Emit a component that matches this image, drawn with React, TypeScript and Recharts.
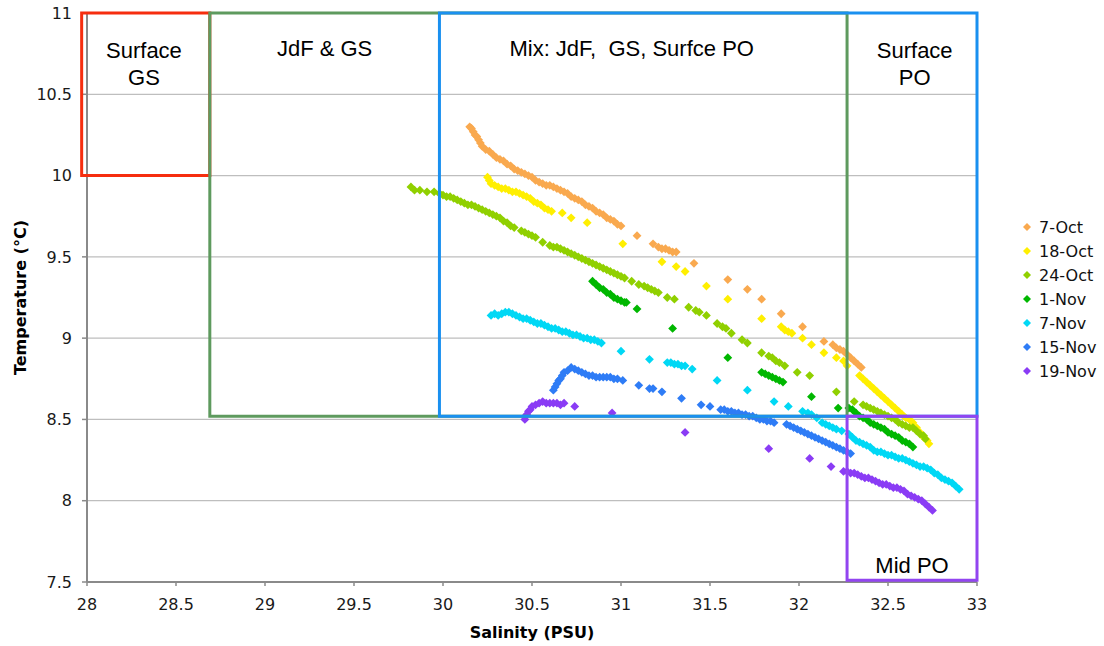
import React from 'react';
import { ScatterChart, Scatter, XAxis, YAxis, CartesianGrid, ReferenceArea, Label } from 'recharts';

// axis ticks
const X_TICKS = [28, 28.5, 29, 29.5, 30, 30.5, 31, 31.5, 32, 32.5, 33];
const Y_TICKS = [7.5, 8, 8.5, 9, 9.5, 10, 10.5, 11];

// [salinity, temperature]
const OCT_7 = [
  [30.15, 10.3], [30.16, 10.29], [30.17, 10.27], [30.18, 10.25], [30.19, 10.24], [30.2, 10.22], [30.21, 10.2],
  [30.22, 10.18], [30.24, 10.16], [30.26, 10.15], [30.28, 10.13], [30.3, 10.11], [30.32, 10.1], [30.34, 10.09],
  [30.36, 10.07], [30.38, 10.06], [30.4, 10.04], [30.42, 10.03], [30.44, 10.02], [30.46, 10.01], [30.48, 10.0],
  [30.5, 9.99], [30.52, 9.97], [30.54, 9.96], [30.56, 9.95], [30.58, 9.94], [30.6, 9.94], [30.62, 9.93],
  [30.64, 9.92], [30.66, 9.91], [30.68, 9.9], [30.7, 9.89], [30.72, 9.87], [30.74, 9.86], [30.76, 9.85],
  [30.78, 9.84], [30.8, 9.82], [30.82, 9.81], [30.84, 9.8], [30.86, 9.78], [30.88, 9.77], [30.9, 9.76],
  [30.92, 9.74], [30.94, 9.73], [30.96, 9.72], [30.98, 9.7], [31.0, 9.69],
  [31.09, 9.63], [31.18, 9.58], [31.21, 9.56], [31.23, 9.55], [31.25, 9.55], [31.27, 9.54], [31.29, 9.53],
  [31.31, 9.53], [31.41, 9.46], [31.6, 9.36], [31.71, 9.3], [31.79, 9.24], [31.9, 9.15], [32.02, 9.07],
  [32.14, 8.98], [32.19, 8.96], [32.21, 8.94], [32.23, 8.93], [32.25, 8.92], [32.27, 8.9], [32.29, 8.88],
  [32.31, 8.86], [32.33, 8.84], [32.35, 8.82],
];

const OCT_18 = [
  [30.25, 9.99], [30.26, 9.97], [30.27, 9.95], [30.29, 9.94], [30.31, 9.93], [30.33, 9.92], [30.35, 9.92],
  [30.37, 9.91], [30.39, 9.9], [30.41, 9.9], [30.43, 9.89], [30.45, 9.88], [30.47, 9.87], [30.49, 9.86],
  [30.51, 9.84], [30.53, 9.83], [30.55, 9.82], [30.57, 9.8], [30.59, 9.79], [30.61, 9.78],
  [30.67, 9.77], [30.72, 9.74], [30.81, 9.71], [31.01, 9.58], [31.23, 9.47], [31.31, 9.44], [31.36, 9.41],
  [31.48, 9.32], [31.6, 9.24], [31.79, 9.12], [31.9, 9.07], [31.92, 9.05], [31.94, 9.04], [31.96, 9.03],
  [32.02, 9.0], [32.07, 8.96], [32.14, 8.91], [32.21, 8.88], [32.25, 8.86], [32.27, 8.83], [32.34, 8.77],
  [32.36, 8.75], [32.38, 8.73], [32.4, 8.71], [32.42, 8.69], [32.44, 8.67], [32.46, 8.65], [32.48, 8.63],
  [32.5, 8.61], [32.52, 8.59], [32.54, 8.57], [32.56, 8.55], [32.58, 8.53], [32.6, 8.51], [32.62, 8.5],
  [32.64, 8.48], [32.66, 8.45], [32.68, 8.42], [32.7, 8.39], [32.72, 8.37], [32.73, 8.35],
];

const OCT_24 = [
  [29.82, 9.93], [29.84, 9.91], [29.87, 9.91], [29.91, 9.9], [29.95, 9.9], [29.98, 9.89], [30.0, 9.88],
  [30.02, 9.87], [30.04, 9.87], [30.06, 9.86], [30.08, 9.85], [30.1, 9.84], [30.12, 9.83], [30.14, 9.82],
  [30.16, 9.82], [30.18, 9.81], [30.2, 9.8], [30.22, 9.79], [30.24, 9.78], [30.26, 9.77], [30.28, 9.76],
  [30.3, 9.75], [30.32, 9.74], [30.34, 9.72], [30.36, 9.71], [30.38, 9.69], [30.4, 9.68], [30.44, 9.66],
  [30.46, 9.65], [30.48, 9.64], [30.5, 9.63], [30.52, 9.62], [30.56, 9.59], [30.6, 9.57], [30.62, 9.56],
  [30.64, 9.56], [30.66, 9.55], [30.68, 9.54], [30.7, 9.53], [30.72, 9.52], [30.74, 9.51], [30.76, 9.5],
  [30.78, 9.49], [30.8, 9.48], [30.82, 9.47], [30.84, 9.46], [30.86, 9.45], [30.88, 9.44], [30.9, 9.43],
  [30.92, 9.42], [30.94, 9.41], [30.96, 9.4], [30.98, 9.39], [31.0, 9.38], [31.02, 9.37],
  [31.06, 9.35], [31.1, 9.33], [31.13, 9.32], [31.15, 9.31], [31.17, 9.3], [31.19, 9.29], [31.21, 9.28],
  [31.26, 9.25], [31.3, 9.24], [31.38, 9.19], [31.42, 9.17], [31.44, 9.16], [31.48, 9.14], [31.54, 9.09],
  [31.57, 9.07], [31.59, 9.06], [31.62, 9.03], [31.68, 8.99], [31.71, 8.97], [31.79, 8.91], [31.83, 8.89],
  [31.85, 8.88], [31.87, 8.86], [31.89, 8.85], [31.92, 8.83], [31.99, 8.79], [32.06, 8.77], [32.21, 8.67],
  [32.31, 8.61], [32.36, 8.59], [32.38, 8.58], [32.4, 8.57], [32.42, 8.56], [32.44, 8.55], [32.46, 8.54],
  [32.48, 8.53], [32.5, 8.52], [32.52, 8.51], [32.54, 8.5], [32.56, 8.48], [32.58, 8.47], [32.6, 8.46],
  [32.62, 8.45], [32.64, 8.45], [32.66, 8.43], [32.68, 8.41], [32.7, 8.4], [32.71, 8.38],
];

const NOV_1 = [
  [30.84, 9.35], [30.86, 9.33], [30.88, 9.31], [30.9, 9.3], [30.92, 9.28], [30.94, 9.27], [30.96, 9.25],
  [30.98, 9.24], [31.0, 9.23], [31.02, 9.22], [31.03, 9.22],
  [31.09, 9.18], [31.29, 9.06], [31.6, 8.88], [31.79, 8.79], [31.81, 8.78], [31.83, 8.77], [31.85, 8.76],
  [31.87, 8.75], [31.89, 8.74], [31.91, 8.73], [32.07, 8.64], [32.22, 8.57], [32.28, 8.57], [32.3, 8.56],
  [32.32, 8.54], [32.34, 8.52], [32.36, 8.51], [32.38, 8.5], [32.4, 8.48], [32.42, 8.47], [32.44, 8.46],
  [32.46, 8.45], [32.48, 8.44], [32.5, 8.42], [32.52, 8.41], [32.54, 8.4], [32.56, 8.39], [32.58, 8.37],
  [32.6, 8.36], [32.62, 8.35], [32.64, 8.33],
];

const NOV_7 = [
  [30.27, 9.14], [30.29, 9.15], [30.31, 9.14], [30.33, 9.15], [30.35, 9.16], [30.37, 9.16], [30.39, 9.15],
  [30.41, 9.14], [30.43, 9.13], [30.45, 9.12], [30.47, 9.12], [30.49, 9.11], [30.51, 9.1], [30.53, 9.09],
  [30.55, 9.09], [30.57, 9.08], [30.59, 9.07], [30.61, 9.06], [30.63, 9.06], [30.65, 9.05], [30.67, 9.04],
  [30.69, 9.04], [30.71, 9.03], [30.73, 9.02], [30.75, 9.02], [30.77, 9.01], [30.79, 9.0], [30.81, 9.0],
  [30.83, 8.99], [30.85, 8.99], [30.87, 8.98], [30.89, 8.97],
  [31.0, 8.92], [31.16, 8.87], [31.26, 8.85], [31.28, 8.85], [31.3, 8.84], [31.32, 8.84], [31.34, 8.83],
  [31.36, 8.83], [31.4, 8.81], [31.54, 8.74], [31.71, 8.68], [31.86, 8.61], [31.94, 8.58], [32.02, 8.55],
  [32.05, 8.54], [32.07, 8.53], [32.1, 8.51], [32.13, 8.48], [32.15, 8.47], [32.17, 8.46], [32.19, 8.45],
  [32.21, 8.44], [32.24, 8.43], [32.28, 8.41], [32.3, 8.39], [32.32, 8.37], [32.34, 8.36], [32.36, 8.35],
  [32.38, 8.34], [32.4, 8.33], [32.42, 8.31], [32.44, 8.3], [32.46, 8.3], [32.48, 8.29], [32.5, 8.28],
  [32.52, 8.28], [32.54, 8.27], [32.56, 8.26], [32.58, 8.26], [32.6, 8.25], [32.62, 8.24], [32.64, 8.23],
  [32.66, 8.22], [32.68, 8.21], [32.7, 8.21], [32.72, 8.2], [32.74, 8.19], [32.76, 8.17], [32.78, 8.16],
  [32.8, 8.14], [32.82, 8.13], [32.84, 8.12], [32.86, 8.11], [32.88, 8.09], [32.9, 8.07],
];

const NOV_15 = [
  [30.62, 8.68], [30.63, 8.7], [30.64, 8.72], [30.65, 8.74], [30.66, 8.75], [30.67, 8.77], [30.68, 8.79],
  [30.7, 8.8], [30.72, 8.82], [30.74, 8.81], [30.76, 8.8], [30.78, 8.79], [30.8, 8.78], [30.82, 8.77],
  [30.84, 8.77], [30.86, 8.76], [30.88, 8.76], [30.9, 8.76], [30.92, 8.76], [30.94, 8.76], [30.96, 8.75],
  [30.98, 8.75], [31.01, 8.74],
  [31.1, 8.71], [31.16, 8.69], [31.18, 8.69], [31.23, 8.67], [31.34, 8.63], [31.45, 8.59], [31.5, 8.58],
  [31.56, 8.56], [31.58, 8.56], [31.6, 8.55], [31.62, 8.55], [31.64, 8.54], [31.66, 8.54], [31.68, 8.53],
  [31.7, 8.53], [31.72, 8.52], [31.74, 8.52], [31.76, 8.51], [31.78, 8.5], [31.8, 8.5], [31.82, 8.49],
  [31.84, 8.49], [31.86, 8.48], [31.93, 8.47], [31.95, 8.46], [31.97, 8.45], [31.99, 8.44], [32.01, 8.43],
  [32.03, 8.42], [32.05, 8.41], [32.07, 8.4], [32.09, 8.39], [32.11, 8.38], [32.13, 8.37], [32.15, 8.36],
  [32.17, 8.35], [32.19, 8.34], [32.21, 8.33], [32.23, 8.32], [32.25, 8.31], [32.27, 8.3], [32.29, 8.29],
];

const NOV_19 = [
  [30.46, 8.5], [30.47, 8.53], [30.48, 8.55], [30.49, 8.56], [30.5, 8.58], [30.52, 8.59], [30.54, 8.6],
  [30.56, 8.61], [30.58, 8.6], [30.6, 8.6], [30.62, 8.6], [30.64, 8.6], [30.66, 8.59], [30.68, 8.6],
  [30.74, 8.58], [30.95, 8.54], [31.36, 8.42], [31.83, 8.32], [32.06, 8.26], [32.18, 8.21], [32.25, 8.18],
  [32.27, 8.18], [32.29, 8.17], [32.31, 8.17], [32.33, 8.16], [32.35, 8.15], [32.37, 8.14], [32.39, 8.14],
  [32.41, 8.13], [32.43, 8.12], [32.45, 8.11], [32.47, 8.1], [32.49, 8.1], [32.51, 8.09], [32.53, 8.08],
  [32.55, 8.08], [32.57, 8.07], [32.59, 8.06], [32.61, 8.04], [32.63, 8.03], [32.65, 8.02], [32.67, 8.01],
  [32.69, 8.0], [32.71, 7.98], [32.73, 7.96], [32.75, 7.94],
];

const SERIES_NAMES = ['7-Oct', '18-Oct', '24-Oct', '1-Nov', '7-Nov', '15-Nov', '19-Nov'];
const SERIES_POINTS = [OCT_7, OCT_18, OCT_24, NOV_1, NOV_7, NOV_15, NOV_19];
const SERIES_COLORS = ['#F9A94F', '#FFEF00', '#90D000', '#00B700', '#00D8F5', '#2E7CF6', '#8A3CF5'];

// water-mass boxes: [x1, x2, y1, y2]
const ZONE_BOXES = [
  [27.97, 28.69, 10.0, 11.0],
  [28.69, 32.27, 8.52, 11.0],
  [29.98, 33.0, 8.52, 11.0],
  [32.27, 33.0, 7.51, 8.52],
];
const ZONE_COLORS = ['#F62D0E', '#5E9A5E', '#1A90F0', '#9245F0'];

// text blocks placed over the plot: [x1, x2, y1, y2] and their lines
const TEXT_REGIONS = [
  [27.95, 28.69, 10.0, 11.0],
  [28.69, 29.98, 10.0, 11.0],
  [29.98, 32.14, 10.0, 11.0],
  [32.3, 33.0, 10.0, 11.0],
  [32.27, 33.0, 7.5, 8.52],
];
const TEXT_LINES = [
  ['Surface', 'GS'],
  ['JdF & GS'],
  ['Mix: JdF,\u00A0 GS, Surfce PO'],
  ['Surface', 'PO'],
  ['Mid PO'],
];

const VERDANA = '"DejaVu Sans", Verdana, sans-serif';
const ARIAL = '"Liberation Sans", Arial, sans-serif';

function diamondShape(color: string) {
  return (props: any) => {
    const { cx, cy } = props;
    if (cx == null || cy == null) return <g />;
    const r = 4.4;
    return (
      <polygon
        points={`${cx},${cy - r} ${cx + r},${cy} ${cx},${cy + r} ${cx - r},${cy}`}
        fill={color}
      />
    );
  };
}

export default function App() {
  const series = SERIES_NAMES.map((name, i) => ({
    name,
    color: SERIES_COLORS[i],
    data: SERIES_POINTS[i].map(([x, y]) => ({ x, y })),
  }));

  const textStyle = { fontFamily: ARIAL, fontSize: 22, fill: '#000' };

  return (
    <div style={{ position: 'absolute', left: 0, top: 0, width: 1104, height: 646, background: '#fff' }}>
      <ScatterChart width={1104} height={646} margin={{ top: 13, right: 127, bottom: 34, left: 27 }}>
        <CartesianGrid vertical={false} stroke="#BEBEBE" strokeWidth={1.2} />
        <XAxis
          type="number"
          dataKey="x"
          domain={[28, 33]}
          ticks={X_TICKS}
          interval={0}
          height={30}
          tickSize={4}
          tickMargin={13}
          axisLine={{ stroke: '#8A8A8A', strokeWidth: 2 }}
          tickLine={{ stroke: '#8A8A8A', strokeWidth: 1.5 }}
          tick={{ fill: '#1a1a1a', fontSize: 16, fontFamily: VERDANA }}
        >
          <Label
            value="Salinity (PSU)"
            position="bottom"
            offset={15}
            style={{ fontFamily: VERDANA, fontSize: 16, fontWeight: 'bold', fill: '#000' }}
          />
        </XAxis>
        <YAxis
          type="number"
          dataKey="y"
          domain={[7.5, 11]}
          ticks={Y_TICKS}
          interval={0}
          width={60}
          tickSize={5}
          tickMargin={10}
          axisLine={{ stroke: '#8A8A8A', strokeWidth: 2 }}
          tickLine={{ stroke: '#8A8A8A', strokeWidth: 1.5 }}
          tick={{ fill: '#1a1a1a', fontSize: 16, fontFamily: VERDANA }}
        >
          <Label
            value="Temperature (°C)"
            angle={-90}
            position="insideLeft"
            offset={-7}
            style={{ fontFamily: VERDANA, fontSize: 16, fontWeight: 'bold', fill: '#000', textAnchor: 'middle' }}
          />
        </YAxis>

        {series.map(s => (
          <Scatter
            key={s.name}
            name={s.name}
            data={s.data}
            fill={s.color}
            shape={diamondShape(s.color)}
            isAnimationActive={false}
          />
        ))}

        {ZONE_BOXES.map(([x1, x2, y1, y2], i) => (
          <ReferenceArea
            key={'box' + i}
            x1={x1}
            x2={x2}
            y1={y1}
            y2={y2}
            fill="none"
            fillOpacity={0}
            stroke={ZONE_COLORS[i]}
            strokeWidth={3}
            strokeOpacity={1}
            ifOverflow="visible"
            zIndex={700}
          />
        ))}

        {TEXT_REGIONS.map(([x1, x2, y1, y2], i) => {
          const lines = TEXT_LINES[i];
          const atBottom = y1 < 8;
          return (
            <ReferenceArea
              key={'txt' + i}
              x1={x1}
              x2={x2}
              y1={y1}
              y2={y2}
              fill="none"
              fillOpacity={0}
              stroke="none"
              ifOverflow="visible"
              zIndex={800}
            >
              {lines.map((line, j) => (
                <Label
                  key={j}
                  value={line}
                  position={atBottom ? 'insideBottom' : 'insideTop'}
                  offset={atBottom ? 9 : (lines.length > 1 ? 29 + j * 27 : 27)}
                  style={textStyle}
                />
              ))}
            </ReferenceArea>
          );
        })}
      </ScatterChart>

      {/* legend */}
      <div style={{ position: 'absolute', left: 1020, top: 215, fontFamily: VERDANA, fontSize: 16, color: '#111' }}>
        {series.map(s => (
          <div key={s.name} style={{ height: 24, display: 'flex', alignItems: 'center' }}>
            <svg width={14} height={10} style={{ marginRight: 5 }}>
              <polygon points="7,1 11,5 7,9 3,5" fill={s.color} />
            </svg>
            <span>{s.name}</span>
          </div>
        ))}
      </div>
    </div>
  );
}
